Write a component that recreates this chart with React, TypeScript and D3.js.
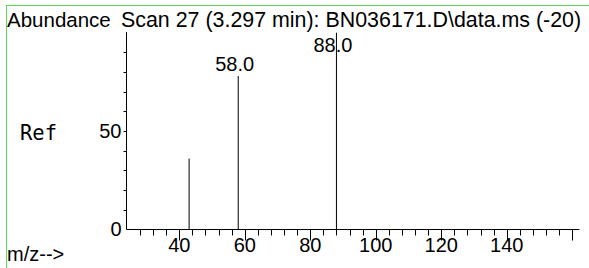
import React, { useEffect } from "react";
import * as d3 from "d3";

const mz = [43, 58, 88];
const abundance = [36, 78, 100];
const peakLabels = ["", "58.0", "88.0"];
const xTickLabels = [40, 60, 80, 100, 120, 140];
const yTickLabels = [0, 50];
const title = "Scan 27 (3.297 min): BN036171.D\\data.ms (-20)";

export default function App() {
  useEffect(() => {
    document.body.style.margin = "0";
  }, []);
  const W = 589, H = 268;
  const x = d3.scaleLinear().domain([24, 162.2]).range([126.9, 579.4]);
  const y = d3.scaleLinear().domain([0, 100]).range([229.3, 32.7]);
  const font = "'Liberation Sans', Arial, sans-serif";
  const minorX = d3.range(28, 161, 4);
  const minorY = d3.range(10, 91, 10);
  const y0 = Math.round(y(0)) + 0.5;
  const xAxisX = Math.round(x(24)) - 0.5;
  return (
    <svg width={W} height={H} style={{ display: "block" }}>
      <rect x={0} y={0} width={W} height={H} fill="#fff" />
      <line x1={6.5} x2={W} y1={5.5} y2={5.5} stroke="#55dd55" />
      <line x1={6.5} x2={6.5} y1={5} y2={H} stroke="#55dd55" />
      <text x={7} y={27} fontFamily={font} fontSize={20.5}>Abundance</text>
      <text x={121} y={27} fontFamily={font} fontSize={21.4}>{title}</text>
      <text x={20} y={140} fontFamily="'DejaVu Sans Mono', monospace" fontSize={20.5}>Ref</text>
      <text x={7} y={261} fontFamily={font} fontSize={20}>m/z--&gt;</text>
      {/* y axis */}
      <line x1={xAxisX} x2={xAxisX} y1={y(100) - 0.5} y2={y0} stroke="#000" />
      {minorY.map((v) => (
        <line key={v} x1={xAxisX - 3} x2={xAxisX} y1={Math.round(y(v)) + 0.5} y2={Math.round(y(v)) + 0.5} stroke="#000" />
      ))}
      {yTickLabels.map((v) => (
        <text key={v} x={xAxisX - 5} y={y(v) + 7} textAnchor="end" fontFamily={font} fontSize={20}>{v}</text>
      ))}
      {/* x axis */}
      <line x1={xAxisX} x2={x(162.2)} y1={y0} y2={y0} stroke="#000" />
      {minorX.map((v) => (
        <line key={v} x1={Math.round(x(v)) + 0.5} x2={Math.round(x(v)) + 0.5} y1={y0} y2={y0 + (v % 20 === 0 ? 11 : 6)} stroke="#000" />
      ))}
      {xTickLabels.map((v) => (
        <text key={v} x={x(v)} y={252} textAnchor="middle" fontFamily={font} fontSize={20}>{v}</text>
      ))}
      {/* peaks */}
      {mz.map((m, i) => (
        <line key={m} x1={x(m)} x2={x(m)} y1={y(abundance[i])} y2={y0} stroke="#000" />
      ))}
      {mz.map((m, i) =>
        peakLabels[i] ? (
          <text key={"l" + m} x={x(m) - 3.5} y={Math.max(y(abundance[i]) - 5, 52)} textAnchor="middle" fontFamily={font} fontSize={20}>
            {peakLabels[i]}
          </text>
        ) : null
      )}
    </svg>
  );
}
